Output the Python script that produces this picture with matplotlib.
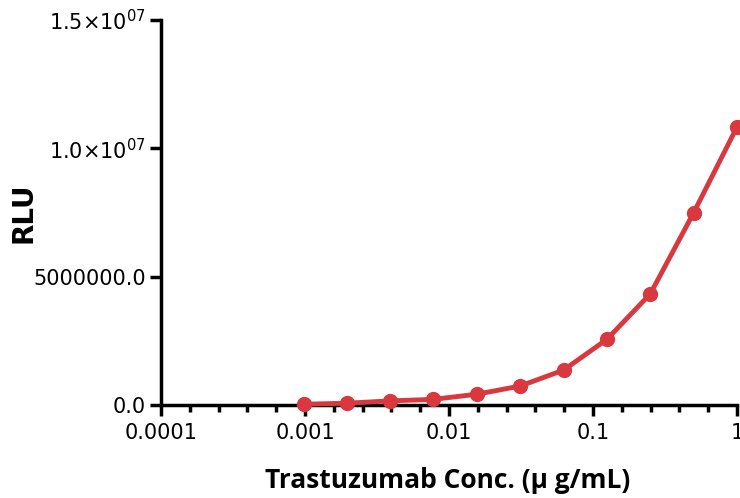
import matplotlib
matplotlib.use("Agg")
import matplotlib.pyplot as plt
from matplotlib.ticker import FixedLocator, FixedFormatter

# 2-fold dilution series
conc = [0.000977, 0.00195, 0.0039, 0.0078, 0.0156, 0.03125, 0.0625, 0.125, 0.25, 0.5, 1.0]
rlu = [0.03e6, 0.07e6, 0.16e6, 0.22e6, 0.42e6, 0.74e6, 1.36e6, 2.56e6, 4.33e6, 7.49e6, 10.83e6]

xticks = [0.0001, 0.001, 0.01, 0.1, 1]
xticklabels = ['0.0001', '0.001', '0.01', '0.1', '1']
yticks = [0, 5e6, 1.0e7, 1.5e7]
yticklabels = ['0.0', '5000000.0', r'1.0×10$^{07}$', r'1.5×10$^{07}$']

red = '#D9383F'

fig = plt.figure(figsize=(7.4, 4.98), dpi=100)
ax = fig.add_axes([161/740, 93/498, 576/740, 385/498])

ax.plot(conc, rlu, color=red, lw=3.5, marker='o', ms=10, clip_on=False, zorder=3)

ax.set_xscale('log')
ax.set_xlim(0.0001, 1)
ax.set_ylim(0, 1.5e7)

ax.xaxis.set_major_locator(FixedLocator(xticks))
ax.xaxis.set_major_formatter(FixedFormatter(xticklabels))
# minor ticks evenly spaced in log space, 4 per decade
minors = [10 ** (d + f / 5) for d in range(-4, 0) for f in range(1, 5)]
ax.xaxis.set_minor_locator(FixedLocator(minors))
ax.xaxis.set_minor_formatter(FixedFormatter([''] * len(minors)))

ax.yaxis.set_major_locator(FixedLocator(yticks))
ax.yaxis.set_major_formatter(FixedFormatter(yticklabels))

for s in ['top', 'right']:
    ax.spines[s].set_visible(False)
for s in ['left', 'bottom']:
    ax.spines[s].set_linewidth(2.5)

ax.tick_params(axis='both', which='major', width=2.5, length=8, labelsize=15, pad=3)
ax.tick_params(axis='x', which='major', pad=5)
ax.tick_params(axis='x', which='minor', width=2.5, length=5)

fig.text(24/740, 1 - 213/498, 'RLU', rotation=90, fontsize=20, fontweight='bold',
         ha='center', va='center')
fig.text(448/740, 10/498, 'Trastuzumab Conc. (μ g/mL)', fontsize=19, fontweight='bold',
         family='Open Sans', ha='center', va='baseline')

fig.savefig('out.png', dpi=100)
